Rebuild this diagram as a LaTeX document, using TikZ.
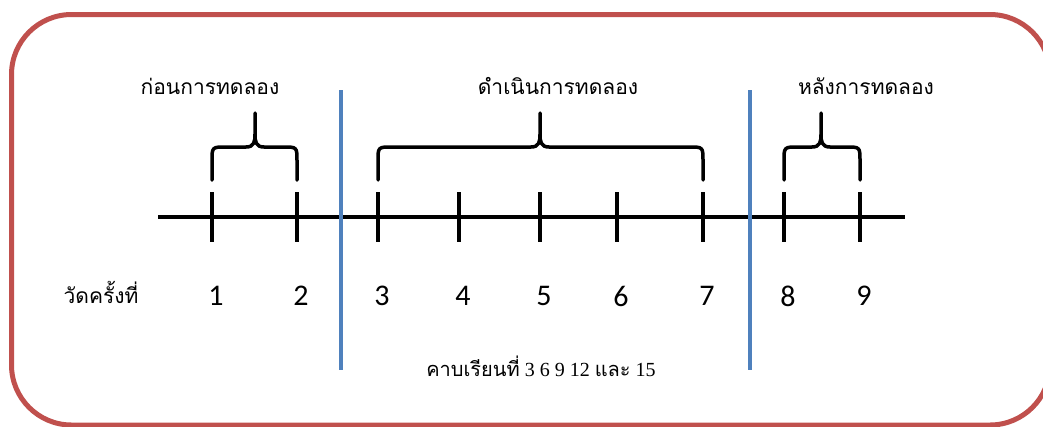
\documentclass[tikz,border=0pt]{standalone}
\usepackage{fontspec}
\setmainfont{Liberation Serif}
\newfontfamily\thaifont[Script=Thai]{Loma}
\newfontfamily\digitfont{Carlito}
\definecolor{framered}{RGB}{192,80,77}
\definecolor{dividerblue}{RGB}{79,129,189}
\newcommand{\curlybrace}[3]{%
  \draw[bracket] (#1,180) -- (#1,161) .. controls (#1,147) .. (#1+14,147) -- (#3-9,147)
    .. controls (#3-1,147) and (#3,142) .. (#3,134) -- (#3,113) -- (#3,134)
    .. controls (#3,142) and (#3+1,147) .. (#3+9,147) -- (#2-14,147)
    .. controls (#2,147) .. (#2,161) -- (#2,180);
}
\begin{document}
\begin{tikzpicture}[x=1pt, y=-1pt,
    bracket/.style={line width=3.5pt, line join=round, line cap=round},
    tickmark/.style={line width=4pt},
    divider/.style={dividerblue, line width=4pt},
    heading/.style={font=\thaifont\fontsize{21}{24}\selectfont},
    countlabel/.style={font=\digitfont\fontsize{30}{33}\selectfont}]
    \useasboundingbox (0,0) rectangle (1043,426);
    \begin{scope}
        \clip (0,0) rectangle (1043,426);
        \draw[framered, line width=5pt, rounded corners=60pt] (11.5,14.5) rectangle (1050,425);
    \end{scope}
    \coordinate (start) at (158,217);
    \coordinate (end) at (905,217);
    \draw[line width=4.5pt] (start) -- (end);
    \foreach \x [count=\i] in {212,297,378,459,540,617,703,784,860} {
        \draw[tickmark] (\x,192) -- (\x,242);
        \node[countlabel] (n\i) at (\x+4,296) {\i};
    }
    \coordinate (pretop) at (341,90);
    \coordinate (prebottom) at (341,370);
    \coordinate (posttop) at (750,90);
    \coordinate (postbottom) at (750,370);
    \draw[divider] (pretop) -- (prebottom);
    \draw[divider] (posttop) -- (postbottom);
    \curlybrace{212}{297}{255}
    \curlybrace{378}{703}{540}
    \curlybrace{784}{860}{821}
    \node[heading] (before) at (210,86) {ก่อนการทดลอง};
    \node[heading] (during) at (558,86) {ดำเนินการทดลอง};
    \node[heading] (after) at (866,86) {หลังการทดลอง};
    \node[heading] (round) at (101,292) {วัดครั้งที่};
    \node[font=\fontsize{20}{23}\selectfont] (periods) at (541,366) {{\thaifont คาบเรียนที่} 3 6 9 12 {\thaifont และ} 15};
\end{tikzpicture}
\end{document}
